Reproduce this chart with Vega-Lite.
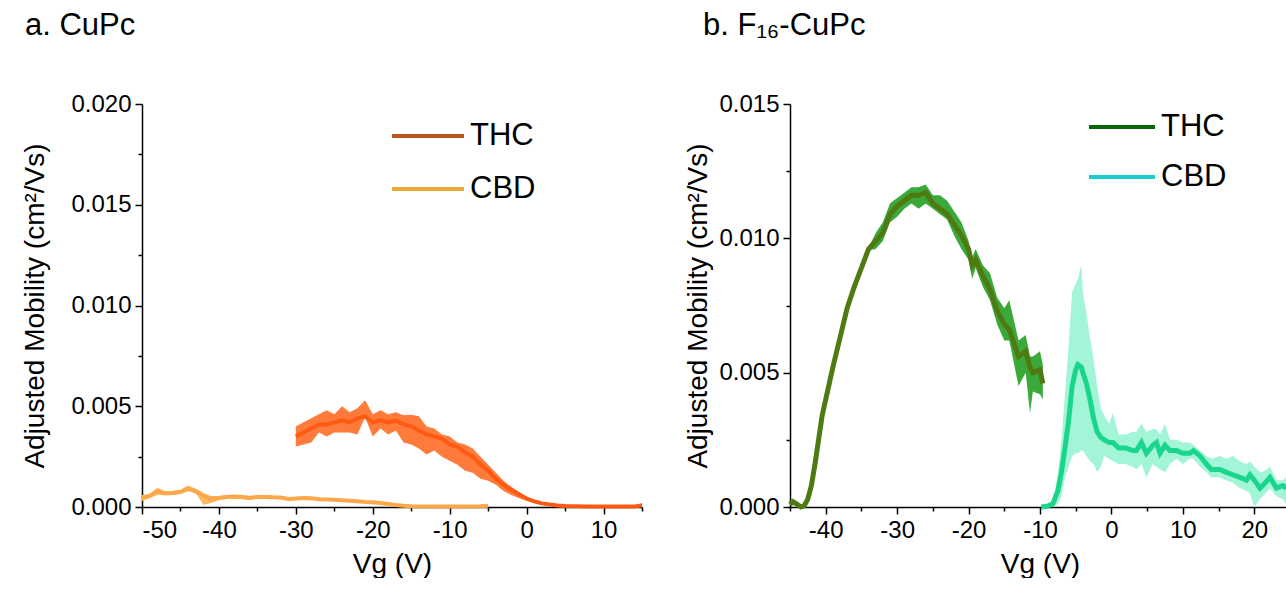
{
  "$schema": "https://vega.github.io/schema/vega-lite/v6.json",
  "padding": {"left": 21, "top": 10, "right": 0, "bottom": 0},
  "config": {
    "view": {"stroke": null},
    "font": "Liberation Sans",
    "axis": {"domainColor": "black", "domainWidth": 1.5, "tickColor": "black", "tickWidth": 1.5, "labelColor": "black", "titleColor": "black", "labelFont": "Liberation Sans", "titleFont": "Liberation Sans", "labelFontSize": 24, "titleFontSize": 28, "titleFontWeight": "normal", "grid": false, "labelPadding": 4, "labelOverlap": false},
    "legend": {"labelFont": "Liberation Sans"}
  },
  "datasets": {
    "a": [
      {"s": "CBD", "v": -50, "m": 0.00045, "lo": 0.0003, "hi": 0.0006},
      {"s": "CBD", "v": -49, "m": 0.00055, "lo": 0.00045, "hi": 0.00065},
      {"s": "CBD", "v": -48, "m": 0.0008, "lo": 0.0006, "hi": 0.00095},
      {"s": "CBD", "v": -47, "m": 0.00068, "lo": 0.00058, "hi": 0.00078},
      {"s": "CBD", "v": -46, "m": 0.0007, "lo": 0.0006, "hi": 0.0008},
      {"s": "CBD", "v": -45, "m": 0.00075, "lo": 0.00065, "hi": 0.00085},
      {"s": "CBD", "v": -44, "m": 0.0009, "lo": 0.0008, "hi": 0.00107},
      {"s": "CBD", "v": -43, "m": 0.00078, "lo": 0.00068, "hi": 0.0009},
      {"s": "CBD", "v": -42, "m": 0.00055, "lo": 0.0001, "hi": 0.0007},
      {"s": "CBD", "v": -41, "m": 0.0004, "lo": 0.0002, "hi": 0.00055},
      {"s": "CBD", "v": -40, "m": 0.00045, "lo": 0.00035, "hi": 0.00055},
      {"s": "CBD", "v": -39, "m": 0.0005, "lo": 0.0004, "hi": 0.0006},
      {"s": "CBD", "v": -38, "m": 0.00052, "lo": 0.00042, "hi": 0.0006},
      {"s": "CBD", "v": -37, "m": 0.0005, "lo": 0.0004, "hi": 0.00058},
      {"s": "CBD", "v": -36, "m": 0.00045, "lo": 0.00035, "hi": 0.00055},
      {"s": "CBD", "v": -35, "m": 0.0005, "lo": 0.00042, "hi": 0.00058},
      {"s": "CBD", "v": -34, "m": 0.0005, "lo": 0.00042, "hi": 0.00058},
      {"s": "CBD", "v": -33, "m": 0.00048, "lo": 0.0004, "hi": 0.00056},
      {"s": "CBD", "v": -32, "m": 0.00047, "lo": 0.0004, "hi": 0.00055},
      {"s": "CBD", "v": -31, "m": 0.0004, "lo": 0.00032, "hi": 0.00048},
      {"s": "CBD", "v": -30, "m": 0.00042, "lo": 0.00035, "hi": 0.0005},
      {"s": "CBD", "v": -29, "m": 0.00045, "lo": 0.00038, "hi": 0.00052},
      {"s": "CBD", "v": -28, "m": 0.00043, "lo": 0.00036, "hi": 0.0005},
      {"s": "CBD", "v": -27, "m": 0.00038, "lo": 0.00031, "hi": 0.00045},
      {"s": "CBD", "v": -26, "m": 0.00037, "lo": 0.0003, "hi": 0.00043},
      {"s": "CBD", "v": -25, "m": 0.00036, "lo": 0.0003, "hi": 0.00042},
      {"s": "CBD", "v": -24, "m": 0.00033, "lo": 0.00027, "hi": 0.00039},
      {"s": "CBD", "v": -23, "m": 0.00031, "lo": 0.00025, "hi": 0.00037},
      {"s": "CBD", "v": -22, "m": 0.00028, "lo": 0.00022, "hi": 0.00034},
      {"s": "CBD", "v": -21, "m": 0.00025, "lo": 0.0002, "hi": 0.0003},
      {"s": "CBD", "v": -20, "m": 0.00023, "lo": 0.00018, "hi": 0.00028},
      {"s": "CBD", "v": -19, "m": 0.0002, "lo": 0.00015, "hi": 0.0003},
      {"s": "CBD", "v": -18, "m": 0.00015, "lo": 0.0001, "hi": 0.0002},
      {"s": "CBD", "v": -17, "m": 0.0001, "lo": 0.00006, "hi": 0.00014},
      {"s": "CBD", "v": -16, "m": 0.00006, "lo": 0.00003, "hi": 0.0001},
      {"s": "CBD", "v": -15, "m": 0.00004, "lo": 0.00002, "hi": 0.00006},
      {"s": "CBD", "v": -12, "m": 0.00003, "lo": 0.00002, "hi": 0.00005},
      {"s": "CBD", "v": -9, "m": 0.00003, "lo": 0.00002, "hi": 0.00005},
      {"s": "CBD", "v": -6, "m": 0.00004, "lo": 0.00002, "hi": 0.00006},
      {"s": "CBD", "v": -5, "m": 0.00006, "lo": 0.00002, "hi": 0.0001},
      {"s": "THC", "v": -30, "m": 0.0035, "lo": 0.003, "hi": 0.004},
      {"s": "THC", "v": -29, "m": 0.0037, "lo": 0.0031, "hi": 0.0042},
      {"s": "THC", "v": -28, "m": 0.0039, "lo": 0.0032, "hi": 0.0044},
      {"s": "THC", "v": -27, "m": 0.0041, "lo": 0.0037, "hi": 0.0046},
      {"s": "THC", "v": -26, "m": 0.0041, "lo": 0.0035, "hi": 0.0048},
      {"s": "THC", "v": -25, "m": 0.0042, "lo": 0.0037, "hi": 0.0046},
      {"s": "THC", "v": -24, "m": 0.0043, "lo": 0.0037, "hi": 0.005},
      {"s": "THC", "v": -23, "m": 0.0042, "lo": 0.0037, "hi": 0.0047},
      {"s": "THC", "v": -22, "m": 0.0044, "lo": 0.0036, "hi": 0.0049},
      {"s": "THC", "v": -21, "m": 0.0045, "lo": 0.00445, "hi": 0.0053},
      {"s": "THC", "v": -20, "m": 0.0042, "lo": 0.0035, "hi": 0.0046},
      {"s": "THC", "v": -19, "m": 0.0043, "lo": 0.0039, "hi": 0.0048},
      {"s": "THC", "v": -18, "m": 0.0042, "lo": 0.0036, "hi": 0.0046},
      {"s": "THC", "v": -17, "m": 0.0043, "lo": 0.0038, "hi": 0.0047},
      {"s": "THC", "v": -16, "m": 0.0041, "lo": 0.0032, "hi": 0.00455},
      {"s": "THC", "v": -15, "m": 0.004, "lo": 0.0031, "hi": 0.00458},
      {"s": "THC", "v": -14, "m": 0.0038, "lo": 0.0029, "hi": 0.0045},
      {"s": "THC", "v": -13, "m": 0.0036, "lo": 0.0026, "hi": 0.004},
      {"s": "THC", "v": -12, "m": 0.0035, "lo": 0.0028, "hi": 0.0039},
      {"s": "THC", "v": -11, "m": 0.0034, "lo": 0.0025, "hi": 0.0036},
      {"s": "THC", "v": -10, "m": 0.0031, "lo": 0.0023, "hi": 0.0035},
      {"s": "THC", "v": -9, "m": 0.003, "lo": 0.0021, "hi": 0.0032},
      {"s": "THC", "v": -8, "m": 0.0027, "lo": 0.0018, "hi": 0.0031},
      {"s": "THC", "v": -7, "m": 0.0025, "lo": 0.0017, "hi": 0.0029},
      {"s": "THC", "v": -6, "m": 0.0021, "lo": 0.0014, "hi": 0.0025},
      {"s": "THC", "v": -5, "m": 0.0018, "lo": 0.0013, "hi": 0.0021},
      {"s": "THC", "v": -4, "m": 0.0014, "lo": 0.0011, "hi": 0.0017},
      {"s": "THC", "v": -3, "m": 0.0011, "lo": 0.0008, "hi": 0.0013},
      {"s": "THC", "v": -2, "m": 0.00085, "lo": 0.0006, "hi": 0.001},
      {"s": "THC", "v": -1, "m": 0.00063, "lo": 0.00045, "hi": 0.00075},
      {"s": "THC", "v": 0, "m": 0.00042, "lo": 0.0003, "hi": 0.0005},
      {"s": "THC", "v": 1, "m": 0.00028, "lo": 0.0002, "hi": 0.00033},
      {"s": "THC", "v": 2, "m": 0.00018, "lo": 0.00013, "hi": 0.00022},
      {"s": "THC", "v": 3, "m": 0.00012, "lo": 0.00009, "hi": 0.00014},
      {"s": "THC", "v": 4, "m": 0.00008, "lo": 0.00006, "hi": 0.0001},
      {"s": "THC", "v": 5, "m": 0.00005, "lo": 0.00004, "hi": 0.00006},
      {"s": "THC", "v": 8, "m": 0.00003, "lo": 0.00002, "hi": 0.00004},
      {"s": "THC", "v": 11, "m": 0.00003, "lo": 0.00002, "hi": 0.00004},
      {"s": "THC", "v": 14, "m": 0.00003, "lo": 0.00002, "hi": 0.00004},
      {"s": "THC", "v": 15, "m": 0.00008, "lo": 0.00002, "hi": 0.0002}
    ],
    "b": [
      {"s": "THC", "v": -45, "m": 0.0001, "lo": 0.00005, "hi": 0.00015},
      {"s": "THC", "v": -44.6, "m": 0.0002, "lo": 0.00015, "hi": 0.00025},
      {"s": "THC", "v": -44, "m": 0.0001, "lo": 0.00005, "hi": 0.00015},
      {"s": "THC", "v": -43.5, "m": 0.0, "lo": 0.0, "hi": 0.00005},
      {"s": "THC", "v": -43, "m": 0.00005, "lo": 0.0, "hi": 0.0001},
      {"s": "THC", "v": -42.5, "m": 0.0003, "lo": 0.00025, "hi": 0.00035},
      {"s": "THC", "v": -42, "m": 0.0008, "lo": 0.00075, "hi": 0.00085},
      {"s": "THC", "v": -41.5, "m": 0.0016, "lo": 0.00155, "hi": 0.00165},
      {"s": "THC", "v": -41, "m": 0.0025, "lo": 0.00245, "hi": 0.00255},
      {"s": "THC", "v": -40.5, "m": 0.0034, "lo": 0.00335, "hi": 0.00345},
      {"s": "THC", "v": -40, "m": 0.004, "lo": 0.00395, "hi": 0.00405},
      {"s": "THC", "v": -39.5, "m": 0.0046, "lo": 0.00455, "hi": 0.00465},
      {"s": "THC", "v": -39, "m": 0.0052, "lo": 0.00515, "hi": 0.00525},
      {"s": "THC", "v": -38, "m": 0.0063, "lo": 0.00625, "hi": 0.00635},
      {"s": "THC", "v": -37, "m": 0.0074, "lo": 0.00735, "hi": 0.00745},
      {"s": "THC", "v": -36, "m": 0.0082, "lo": 0.00815, "hi": 0.00825},
      {"s": "THC", "v": -35, "m": 0.0089, "lo": 0.00885, "hi": 0.00895},
      {"s": "THC", "v": -34, "m": 0.0096, "lo": 0.00955, "hi": 0.00965},
      {"s": "THC", "v": -33, "m": 0.0099, "lo": 0.0096, "hi": 0.0102},
      {"s": "THC", "v": -32, "m": 0.0102, "lo": 0.0099, "hi": 0.0106},
      {"s": "THC", "v": -31, "m": 0.0109, "lo": 0.0106, "hi": 0.0113},
      {"s": "THC", "v": -30, "m": 0.0112, "lo": 0.0108, "hi": 0.0115},
      {"s": "THC", "v": -29, "m": 0.0114, "lo": 0.0111, "hi": 0.0117},
      {"s": "THC", "v": -28, "m": 0.0116, "lo": 0.0113, "hi": 0.0119},
      {"s": "THC", "v": -27, "m": 0.0116, "lo": 0.0111, "hi": 0.0119},
      {"s": "THC", "v": -26, "m": 0.0117, "lo": 0.0113, "hi": 0.012},
      {"s": "THC", "v": -25, "m": 0.0113, "lo": 0.0111, "hi": 0.0116},
      {"s": "THC", "v": -24, "m": 0.0111, "lo": 0.0109, "hi": 0.0116},
      {"s": "THC", "v": -23, "m": 0.0109, "lo": 0.0107, "hi": 0.0114},
      {"s": "THC", "v": -22, "m": 0.0105, "lo": 0.0101, "hi": 0.011},
      {"s": "THC", "v": -21, "m": 0.0101, "lo": 0.0096, "hi": 0.0106},
      {"s": "THC", "v": -20, "m": 0.0096, "lo": 0.0092, "hi": 0.0099},
      {"s": "THC", "v": -19.5, "m": 0.009, "lo": 0.0085, "hi": 0.0093},
      {"s": "THC", "v": -19, "m": 0.0092, "lo": 0.0089, "hi": 0.0096},
      {"s": "THC", "v": -18, "m": 0.0086, "lo": 0.0082, "hi": 0.009},
      {"s": "THC", "v": -17, "m": 0.0081, "lo": 0.0077, "hi": 0.0087},
      {"s": "THC", "v": -16, "m": 0.0073, "lo": 0.0068, "hi": 0.0078},
      {"s": "THC", "v": -15, "m": 0.0068, "lo": 0.0062, "hi": 0.0074},
      {"s": "THC", "v": -14.3, "m": 0.0066, "lo": 0.0062, "hi": 0.0077},
      {"s": "THC", "v": -13, "m": 0.0056, "lo": 0.0045, "hi": 0.0062},
      {"s": "THC", "v": -12, "m": 0.0058, "lo": 0.005, "hi": 0.0064},
      {"s": "THC", "v": -11.4, "m": 0.0052, "lo": 0.0035, "hi": 0.0056},
      {"s": "THC", "v": -11, "m": 0.005, "lo": 0.0043, "hi": 0.0056},
      {"s": "THC", "v": -10, "m": 0.0051, "lo": 0.0042, "hi": 0.0058},
      {"s": "THC", "v": -9.6, "m": 0.0046, "lo": 0.004, "hi": 0.0053},
      {"s": "CBD", "v": -9.8, "m": 0.0, "lo": 0.0, "hi": 0.0},
      {"s": "CBD", "v": -9, "m": 0.00003, "lo": 0.0, "hi": 0.00005},
      {"s": "CBD", "v": -8.2, "m": 0.00012, "lo": 0.00002, "hi": 0.0002},
      {"s": "CBD", "v": -7.5, "m": 0.0006, "lo": 0.0001, "hi": 0.0012},
      {"s": "CBD", "v": -7, "m": 0.0013, "lo": 0.0004, "hi": 0.0025},
      {"s": "CBD", "v": -6.5, "m": 0.0022, "lo": 0.0011, "hi": 0.0042},
      {"s": "CBD", "v": -6, "m": 0.0032, "lo": 0.0015, "hi": 0.006},
      {"s": "CBD", "v": -5.5, "m": 0.0045, "lo": 0.0019, "hi": 0.008},
      {"s": "CBD", "v": -5, "m": 0.0051, "lo": 0.002, "hi": 0.0083},
      {"s": "CBD", "v": -4.7, "m": 0.0053, "lo": 0.002, "hi": 0.0085},
      {"s": "CBD", "v": -4.2, "m": 0.0052, "lo": 0.0021, "hi": 0.009},
      {"s": "CBD", "v": -4, "m": 0.005, "lo": 0.0021, "hi": 0.008},
      {"s": "CBD", "v": -3.5, "m": 0.0046, "lo": 0.0019, "hi": 0.0072},
      {"s": "CBD", "v": -3, "m": 0.004, "lo": 0.0017, "hi": 0.0063},
      {"s": "CBD", "v": -2.5, "m": 0.0033, "lo": 0.0016, "hi": 0.0055},
      {"s": "CBD", "v": -2, "m": 0.0028, "lo": 0.0013, "hi": 0.0045},
      {"s": "CBD", "v": -1.5, "m": 0.0026, "lo": 0.0015, "hi": 0.0037},
      {"s": "CBD", "v": -1, "m": 0.0025, "lo": 0.0019, "hi": 0.0034},
      {"s": "CBD", "v": -0.3, "m": 0.0024, "lo": 0.0018, "hi": 0.0031},
      {"s": "CBD", "v": 0.2, "m": 0.0024, "lo": 0.0017, "hi": 0.0035},
      {"s": "CBD", "v": 1, "m": 0.0022, "lo": 0.0016, "hi": 0.0027},
      {"s": "CBD", "v": 2, "m": 0.0022, "lo": 0.0016, "hi": 0.0027},
      {"s": "CBD", "v": 3, "m": 0.0021, "lo": 0.0015, "hi": 0.0028},
      {"s": "CBD", "v": 3.5, "m": 0.0021, "lo": 0.0014, "hi": 0.0028},
      {"s": "CBD", "v": 4.2, "m": 0.0024, "lo": 0.0016, "hi": 0.0031},
      {"s": "CBD", "v": 4.9, "m": 0.002, "lo": 0.0011, "hi": 0.0028},
      {"s": "CBD", "v": 5.8, "m": 0.0023, "lo": 0.0016, "hi": 0.0029},
      {"s": "CBD", "v": 6.3, "m": 0.0024, "lo": 0.0015, "hi": 0.0029},
      {"s": "CBD", "v": 6.8, "m": 0.002, "lo": 0.0014, "hi": 0.0027},
      {"s": "CBD", "v": 7.5, "m": 0.0023, "lo": 0.0013, "hi": 0.0031},
      {"s": "CBD", "v": 8.2, "m": 0.0021, "lo": 0.0016, "hi": 0.0025},
      {"s": "CBD", "v": 9.1, "m": 0.0021, "lo": 0.0018, "hi": 0.0025},
      {"s": "CBD", "v": 10, "m": 0.002, "lo": 0.0016, "hi": 0.0024},
      {"s": "CBD", "v": 11, "m": 0.002, "lo": 0.0018, "hi": 0.0024},
      {"s": "CBD", "v": 11.5, "m": 0.0021, "lo": 0.0018, "hi": 0.0023},
      {"s": "CBD", "v": 12.4, "m": 0.0019, "lo": 0.0015, "hi": 0.0021},
      {"s": "CBD", "v": 13.3, "m": 0.0016, "lo": 0.0013, "hi": 0.0019},
      {"s": "CBD", "v": 14, "m": 0.0014, "lo": 0.0011, "hi": 0.0018},
      {"s": "CBD", "v": 15.2, "m": 0.0014, "lo": 0.0011, "hi": 0.0019},
      {"s": "CBD", "v": 16, "m": 0.0013, "lo": 0.001, "hi": 0.0018},
      {"s": "CBD", "v": 17, "m": 0.0012, "lo": 0.0009, "hi": 0.0019},
      {"s": "CBD", "v": 18, "m": 0.0011, "lo": 0.0007, "hi": 0.0017},
      {"s": "CBD", "v": 18.9, "m": 0.001, "lo": 0.0006, "hi": 0.0016},
      {"s": "CBD", "v": 19.4, "m": 0.0012, "lo": 0.0005, "hi": 0.0017},
      {"s": "CBD", "v": 20, "m": 0.001, "lo": 0.0, "hi": 0.0015},
      {"s": "CBD", "v": 20.8, "m": 0.0007, "lo": 0.0003, "hi": 0.0013},
      {"s": "CBD", "v": 21.2, "m": 0.0008, "lo": 0.0004, "hi": 0.0013},
      {"s": "CBD", "v": 22.2, "m": 0.0011, "lo": 0.0007, "hi": 0.0015},
      {"s": "CBD", "v": 23.1, "m": 0.0007, "lo": 0.0004, "hi": 0.001},
      {"s": "CBD", "v": 24, "m": 0.0008, "lo": 0.0003, "hi": 0.001},
      {"s": "CBD", "v": 24.5, "m": 0.0007, "lo": 0.0001, "hi": 0.0011}
    ]
  },
  "hconcat": [
    {
      "width": 500,
      "height": 403,
      "title": {"text": "a. CuPc", "anchor": "start", "frame": "group", "dx": -117, "offset": 50, "fontSize": 31, "font": "Liberation Sans", "fontWeight": "normal", "color": "black"},
      "data": {"name": "a"},
      "layer": [
        {
          "mark": {"type": "area", "opacity": 1},
          "encoding": {
            "x": {"field": "v", "type": "quantitative", "scale": {"domain": [-50, 15], "nice": false, "zero": false},
              "axis": {"orient": "bottom", "values": [-50, -45, -40, -35, -30, -25, -20, -15, -10, -5, 0, 5, 10, 15], "tickCount": 100, "labelOverlap": false,
                "labelExpr": "indexof([-50, -40, -30, -20, -10, 0, 10], datum.value) >= 0 ? (datum.value < 0 ? '-' + abs(datum.value) : '' + datum.value) : ''",
                "tickSize": {"condition": {"test": "indexof([-50, -40, -30, -20, -10, 0, 10], datum.value) >= 0", "value": 7}, "value": 4},
                "title": "Vg (V)", "titlePadding": 8}},
            "y": {"field": "lo", "type": "quantitative", "scale": {"domain": [0, 0.02], "nice": false},
              "axis": {"orient": "left", "values": [0, 0.0025, 0.005, 0.0075, 0.01, 0.0125, 0.015, 0.0175, 0.02], "tickCount": 100, "labelOverlap": false,
                "labelExpr": "round(datum.value * 10000) % 50 === 0 ? format(datum.value, '.3f') : ''",
                "tickSize": {"condition": {"test": "round(datum.value * 10000) % 50 === 0", "value": 7}, "value": 4},
                "title": "Adjusted Mobility (cm²/Vs)", "titlePadding": 21}},
            "y2": {"field": "hi"},
            "fill": {"field": "s", "type": "nominal", "scale": {"domain": ["CBD", "THC"], "range": ["#ffb964", "#ff7b3c"]}, "legend": null}
          }
        },
        {
          "mark": {"type": "line", "strokeWidth": 4},
          "encoding": {
            "x": {"field": "v", "type": "quantitative"},
            "y": {"field": "m", "type": "quantitative"},
            "stroke": {"field": "s", "type": "nominal", "scale": {"domain": ["CBD", "THC"], "range": ["#fba84a", "#ff5a14"]}, "legend": null}
          }
        },
        {
          "transform": [{"filter": "false"}],
          "mark": {"type": "line", "strokeWidth": 4},
          "encoding": {
            "x": {"field": "v", "type": "quantitative"},
            "y": {"field": "m", "type": "quantitative"},
            "color": {"field": "s", "type": "nominal", "scale": {"domain": ["THC", "CBD"], "range": ["#b8561c", "#eaa834"]},
              "legend": {"orient": "none", "legendX": 248, "legendY": -6, "title": null, "symbolType": "stroke", "symbolSize": 5184, "symbolStrokeWidth": 4, "labelFontSize": 31, "labelColor": "black", "labelOffset": 4, "rowPadding": -44, "padding": 0}}
          }
        }
      ]
    },
    {
      "width": 500,
      "height": 403,
      "title": {"text": "b. F₁₆-CuPc", "anchor": "start", "frame": "group", "dx": -87, "offset": 50, "fontSize": 31, "font": "Liberation Sans", "fontWeight": "normal", "color": "black"},
      "data": {"name": "b"},
      "layer": [
        {
          "mark": {"type": "area", "opacity": 1},
          "encoding": {
            "x": {"field": "v", "type": "quantitative", "scale": {"domain": [-45, 25], "nice": false, "zero": false},
              "axis": {"orient": "bottom", "values": [-45, -40, -35, -30, -25, -20, -15, -10, -5, 0, 5, 10, 15, 20, 25], "tickCount": 100, "labelOverlap": false,
                "labelExpr": "indexof([-40, -30, -20, -10, 0, 10, 20], datum.value) >= 0 ? (datum.value < 0 ? '-' + abs(datum.value) : '' + datum.value) : ''",
                "tickSize": {"condition": {"test": "indexof([-40, -30, -20, -10, 0, 10, 20], datum.value) >= 0", "value": 7}, "value": 4},
                "title": "Vg (V)", "titlePadding": 8}},
            "y": {"field": "lo", "type": "quantitative", "scale": {"domain": [0, 0.015], "nice": false},
              "axis": {"orient": "left", "values": [0, 0.0025, 0.005, 0.0075, 0.01, 0.0125, 0.015], "tickCount": 100, "labelOverlap": false,
                "labelExpr": "round(datum.value * 10000) % 50 === 0 ? format(datum.value, '.3f') : ''",
                "tickSize": {"condition": {"test": "round(datum.value * 10000) % 50 === 0", "value": 7}, "value": 4},
                "title": "Adjusted Mobility (cm²/Vs)", "titlePadding": 6}},
            "y2": {"field": "hi"},
            "fill": {"field": "s", "type": "nominal", "scale": {"domain": ["CBD", "THC"], "range": ["#a3f5d8", "#3aa93a"]}, "legend": null}
          }
        },
        {
          "mark": {"type": "line", "strokeWidth": 5},
          "encoding": {
            "x": {"field": "v", "type": "quantitative"},
            "y": {"field": "m", "type": "quantitative"},
            "stroke": {"field": "s", "type": "nominal", "scale": {"domain": ["CBD", "THC"], "range": ["#1ad68c", "#4f7a12"]}, "legend": null}
          }
        },
        {
          "transform": [{"filter": "false"}],
          "mark": {"type": "line", "strokeWidth": 4},
          "encoding": {
            "x": {"field": "v", "type": "quantitative"},
            "y": {"field": "m", "type": "quantitative"},
            "color": {"field": "s", "type": "nominal", "scale": {"domain": ["THC", "CBD"], "range": ["#0b650b", "#1acccc"]},
              "legend": {"orient": "none", "legendX": 297, "legendY": -12, "title": null, "symbolType": "stroke", "symbolSize": 4356, "symbolStrokeWidth": 4, "labelFontSize": 31, "labelColor": "black", "labelOffset": 4, "rowPadding": -35, "padding": 0}}
          }
        }
      ]
    }
  ],
  "spacing": 148,
  "bounds": "flush",
  "resolve": {"scale": {"color": "independent", "fill": "independent", "stroke": "independent", "x": "independent", "y": "independent"}}
}
